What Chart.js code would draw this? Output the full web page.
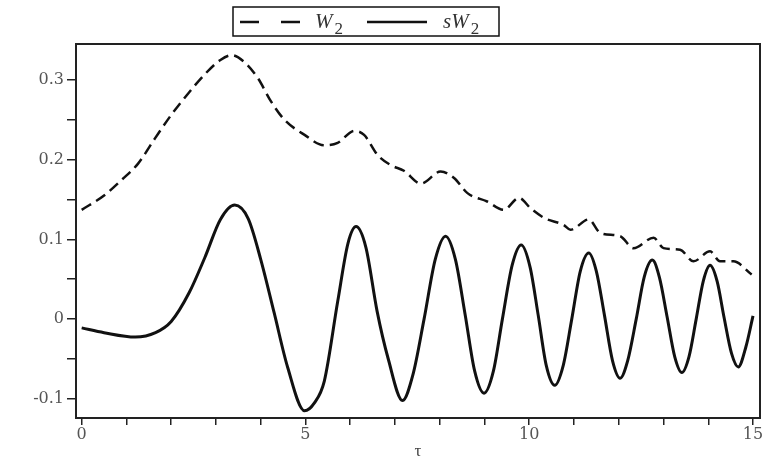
<!DOCTYPE html>
<html>
<head>
<meta charset="utf-8">
<script src="https://cdn.jsdelivr.net/npm/chart.js@4/dist/chart.umd.min.js"></script>
<style>
    body { margin: 0; background: #fff; }
    canvas { display: block; }
</style>
</head>
<body>
<canvas id="chart" width="766" height="463"></canvas>
<script>
// Data
const tW2 = [0, 0.5, 0.9, 1.26, 1.63, 2.0, 2.38, 2.75, 3.1, 3.35, 3.64, 3.94, 4.23, 4.53, 4.98, 5.42, 5.72, 6.09, 6.31, 6.61, 6.91, 7.2, 7.58, 8.02, 8.32, 8.62, 9.06, 9.43, 9.77, 10.03, 10.33, 10.77, 10.92, 11.33, 11.59, 12.03, 12.33, 12.78, 13.0, 13.37, 13.67, 14.04, 14.26, 14.56, 14.97];
const W2 = [0.137, 0.155, 0.175, 0.195, 0.226, 0.256, 0.283, 0.307, 0.325, 0.331, 0.322, 0.302, 0.273, 0.25, 0.231, 0.218, 0.221, 0.236, 0.231, 0.206, 0.193, 0.186, 0.170, 0.185, 0.177, 0.158, 0.1475, 0.137, 0.152, 0.139, 0.127, 0.118, 0.112, 0.125, 0.108, 0.104, 0.089, 0.102, 0.089, 0.087, 0.0725, 0.085, 0.0725, 0.0725, 0.056];

const tSW2 = [0, 0.5, 1.2, 1.65, 2.0, 2.4, 2.75, 3.1, 3.42, 3.72, 4.0, 4.3, 4.6, 4.98, 5.2, 5.42, 5.72, 5.95, 6.13, 6.35, 6.6, 6.85, 7.17, 7.4, 7.65, 7.9, 8.13, 8.35, 8.57, 8.78, 8.99, 9.2, 9.4, 9.62, 9.82, 10.02, 10.2, 10.38, 10.57, 10.76, 10.95, 11.14, 11.33, 11.5, 11.68, 11.86, 12.03, 12.2, 12.39, 12.57, 12.75, 12.91, 13.08, 13.25, 13.41, 13.57, 13.73, 13.89, 14.04, 14.2, 14.35, 14.52, 14.67, 14.84, 15.0];
const sW2 = [-0.011, -0.017, -0.0225, -0.017, -0.003, 0.033, 0.077, 0.125, 0.143, 0.126, 0.075, 0.008, -0.06, -0.115, -0.105, -0.078, 0.022, 0.095, 0.116, 0.09, 0.01, -0.05, -0.102, -0.07, 0.0, 0.075, 0.104, 0.075, 0.005, -0.065, -0.093, -0.065, 0.0, 0.068, 0.093, 0.065, 0.005, -0.058, -0.083, -0.058, 0.0, 0.06, 0.083, 0.06, 0.005, -0.052, -0.074, -0.052, 0.0, 0.053, 0.074, 0.052, 0.003, -0.047, -0.067, -0.047, 0.0, 0.048, 0.0675, 0.047, 0.003, -0.043, -0.06, -0.035, 0.004];

const xTicks = [0, 1, 2, 3, 4, 5, 6, 7, 8, 9, 10, 11, 12, 13, 14, 15];
const xLabels = { 0: '0', 5: '5', 10: '10', 15: '15' };
const yTicks = [-0.1, -0.05, 0, 0.05, 0.1, 0.15, 0.2, 0.25, 0.3];
const yLabels = { '-0.1': '-0.1', '0': '0', '0.1': '0.1', '0.2': '0.2', '0.3': '0.3' };

const legendNames = ['W', 'sW'];
const axisTitle = 'τ';

const toPoints = (xs, ys) => xs.map((x, i) => ({ x, y: ys[i] }));

// frame round the plot area + legend box
const framePlugin = {
    id: 'frame',
    afterDraw(chart) {
        const { ctx, chartArea: a } = chart;
        ctx.save();
        ctx.strokeStyle = '#222';
        ctx.lineWidth = 2;
        ctx.strokeRect(a.left, a.top, a.right - a.left, a.bottom - a.top);

        // legend
        ctx.lineWidth = 1.5;
        ctx.strokeStyle = '#111';
        ctx.strokeRect(233, 7, 266, 29);

        ctx.lineWidth = 2.5;
        ctx.setLineDash([19, 22]);
        ctx.beginPath();
        ctx.moveTo(240, 22);
        ctx.lineTo(302, 22);
        ctx.stroke();
        ctx.setLineDash([]);
        ctx.beginPath();
        ctx.moveTo(367, 22);
        ctx.lineTo(427, 22);
        ctx.stroke();

        ctx.fillStyle = '#333';
        ctx.textBaseline = 'alphabetic';
        ctx.font = 'italic 21px "Liberation Serif"';
        ctx.fillText(legendNames[0], 315, 28);
        let w = ctx.measureText(legendNames[0]).width;
        ctx.font = '17px "Liberation Serif"';
        ctx.fillText('2', 315 + w + 2, 34);

        ctx.font = 'italic 21px "Liberation Serif"';
        ctx.fillText(legendNames[1], 443, 28);
        w = ctx.measureText(legendNames[1]).width;
        ctx.font = '17px "Liberation Serif"';
        ctx.fillText('2', 443 + w + 2, 34);
        ctx.restore();
    }
};

const tickFont = { family: '"DejaVu Serif"', size: 16 };

new Chart(document.getElementById('chart'), {
    type: 'line',
    data: {
        datasets: [
            {
                label: 'W2',
                data: toPoints(tW2, W2),
                borderColor: '#111',
                borderWidth: 2.5,
                borderDash: [11, 6],
                pointRadius: 0,
                cubicInterpolationMode: 'monotone'
            },
            {
                label: 'sW2',
                data: toPoints(tSW2, sW2),
                borderColor: '#111',
                borderWidth: 3,
                pointRadius: 0,
                cubicInterpolationMode: 'monotone'
            }
        ]
    },
    options: {
        responsive: false,
        animation: false,
        layout: { padding: { top: 44, right: 6, left: 0, bottom: 0 } },
        plugins: {
            legend: { display: false },
            tooltip: { enabled: false }
        },
        scales: {
            x: {
                type: 'linear',
                min: -0.127,
                max: 15.156,
                afterBuildTicks: axis => { axis.ticks = xTicks.map(v => ({ value: v })); },
                afterFit: axis => { axis.height = 45; },
                grid: { drawOnChartArea: false, tickLength: 7, color: '#222', lineWidth: 1.5 },
                border: { color: '#222', width: 2 },
                ticks: {
                    autoSkip: false,
                    maxRotation: 0,
                    padding: 0,
                    color: '#555',
                    font: tickFont,
                    callback: v => xLabels[v] ?? ''
                },
                title: {
                    display: true,
                    text: axisTitle,
                    color: '#444',
                    font: { family: '"Liberation Serif"', size: 17 },
                    padding: { top: 0, bottom: 1 }
                }
            },
            y: {
                min: -0.124,
                max: 0.345,
                afterBuildTicks: axis => { axis.ticks = yTicks.map(v => ({ value: v })); },
                afterFit: axis => { axis.width = 76; },
                grid: { drawOnChartArea: false, tickLength: 9, color: '#222', lineWidth: 1.5 },
                border: { color: '#222', width: 2 },
                ticks: {
                    autoSkip: false,
                    padding: 3,
                    color: '#555',
                    font: tickFont,
                    callback: v => yLabels[String(Math.round(v * 100) / 100)] ?? ''
                }
            }
        }
    },
    plugins: [framePlugin]
});
</script>
</body>
</html>
